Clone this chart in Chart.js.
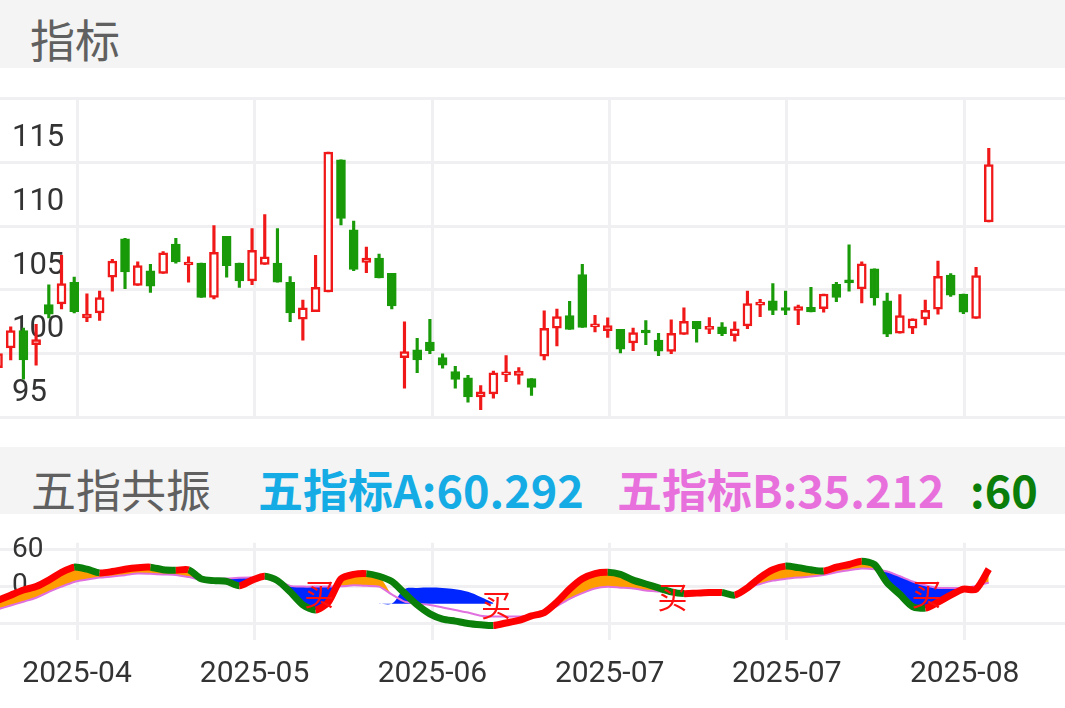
<!DOCTYPE html>
<html><head><meta charset="utf-8">
<script src="https://cdn.jsdelivr.net/npm/chart.js@4"></script>
<style>
body{margin:0;width:1065px;height:708px;background:#fff;position:relative;overflow:hidden;font-family:"Noto Sans CJK SC",Roboto,sans-serif}
.bar{position:absolute;left:0;width:1065px;background:#f4f4f4}
.t{position:absolute;white-space:nowrap;font-size:45px;line-height:1}
#c1{position:absolute;left:0;top:68px}
#c2{position:absolute;left:0;top:514px}
</style></head><body>
<div class="bar" style="top:0;height:68px"></div>
<div class="t" style="left:30px;top:16px;color:#606060">指标</div>
<div class="bar" style="top:447px;height:67px"></div>
<div class="t" style="left:31px;top:466px;color:#606060">五指共振</div>
<div class="t" style="left:258px;top:466px;color:#15ace6;font-weight:bold">五指标A:60.292</div>
<div class="t" style="left:617px;top:466px;color:#e870dc;font-weight:bold">五指标B:35.212</div>
<div class="t" style="left:970px;top:466px;color:#0b7d0b;font-weight:bold">:60</div>
<canvas id="c1" width="1065" height="380"></canvas>
<canvas id="c2" width="1065" height="194"></canvas>
<script>
const OPEN=[98.9,100.45,101.8,100.7,103.85,103.9,105.6,102.8,103.2,106.0,109.0,105.35,106.5,106.3,108.6,106.95,107.1,104.4,109.2,107.1,105.7,107.0,107.1,105.6,102.7,103.3,104.84,115.2,109.7,107.15,107.5,106.3,99.69,100.3,100.9,99.69,98.6,98.1,96.6,96.84,98.33,98.3,98.05,99.8,102.0,102.98,106.2,102.1,101.8,101.9,100.85,101.77,101.07,100.17,101.5,102.54,101.9,102.11,101.4,102.17,103.8,104.15,103.5,103.38,103.64,103.53,105.44,105.73,105.07,106.65,104.15,101.6,102.0,102.72,103.49,106.17,104.67,102.77,110.33];
const HIGH=[100.6,102.1,102.0,102.3,105.4,107.7,106.0,104.7,104.9,107.4,109.05,107.2,107.0,108.0,109.05,107.6,107.1,110.05,109.2,107.1,109.8,110.9,109.8,106.05,104.2,107.7,115.8,115.2,110.4,108.35,107.8,106.3,102.5,101.2,102.7,99.98,99.0,98.3,97.5,98.64,99.85,98.9,98.05,103.35,103.5,104.1,107.0,103.0,102.8,101.9,102.0,102.6,101.6,102.65,103.6,102.54,102.83,102.44,102.5,104.9,104.26,105.5,104.9,103.8,105.2,104.67,105.6,108.53,107.2,106.65,104.74,104.63,102.72,104.2,107.26,106.27,104.67,106.76,116.1];
const LOW=[98.5,99.5,98.0,99.1,102.8,103.5,103.2,102.5,102.6,104.9,105.1,105.35,104.8,106.3,107.1,105.6,104.4,104.3,106.0,105.2,105.4,106.99,105.6,102.5,101.05,103.3,104.84,110.1,106.5,106.35,105.94,103.5,97.3,98.5,100.0,98.86,97.3,96.2,95.6,96.5,97.8,97.6,96.73,99.5,100.6,101.9,102.06,101.7,101.27,100.06,100.24,100.7,99.84,100.0,101.5,100.9,101.56,101.4,100.97,101.95,102.9,103.05,103.05,102.28,103.27,103.25,104.08,104.9,103.97,103.8,101.34,101.6,101.56,102.26,103.1,104.48,103.14,102.77,110.33];
const CLOSE=[100.0,101.8,99.5,101.1,103.1,105.5,103.3,103.1,104.4,107.25,106.4,106.9,105.3,107.9,107.2,107.05,104.4,107.95,106.9,105.7,108.1,107.6,105.6,103.2,103.6,105.2,115.8,110.6,106.6,107.5,105.94,103.75,100.17,99.5,100.24,99.1,97.98,96.6,97.0,98.5,98.5,98.64,97.35,101.99,102.9,101.9,102.06,102.2,102.2,100.35,101.66,101.62,100.2,101.6,102.54,101.93,102.1,101.56,101.95,103.93,104.0,103.38,103.38,103.7,103.27,104.67,104.4,105.55,107.04,104.37,101.52,102.99,102.72,103.4,106.06,104.59,103.25,106.12,114.83];
const SERIES_A=[-22.6,-14.1,-5.7,-0.2,10.3,23.0,31.4,28.1,22.1,24.3,28.1,30.6,31.4,27.2,26.4,27.2,12.4,9.5,8.2,1.0,10.3,16.6,9.5,-8.7,-29.8,-38.2,-25.5,12.4,19.6,20.9,16.6,8.2,-10.8,-29.8,-44.5,-53.0,-56.3,-60.1,-62.2,-63.5,-59.3,-55.1,-47.9,-42.4,-25.5,-4.4,12.4,20.9,23.0,19.6,10.3,4.0,-2.3,-8.7,-11.6,-10.8,-9.9,-9.9,-14.1,-2.3,14.5,27.2,33.1,30.6,27.2,25.1,31.4,35.7,41.1,35.7,6.1,-12.9,-32.7,-35.2,-25.5,-14.1,-4.4,-4.4,28.1];
const SERIES_B=[-36.9,-31.0,-24.7,-18.4,-8.7,-0.2,7.4,11.2,14.5,16.2,18.4,20.9,20.5,19.6,18.8,15.4,11.2,11.6,12.9,14.1,14.5,13.7,10.3,1.0,-0.2,-0.2,-0.2,0.2,1.9,1.0,-0.2,-12.9,-24.7,-27.7,-30.2,-34.0,-38.2,-42.4,-47.5,-48.8,-48.8,-48.8,-48.8,-42.4,-31.9,-20.1,-10.8,-3.2,-0.6,-1.9,-3.2,-6.5,-8.2,-9.9,-10.8,-11.6,-12.0,-12.5,-12.9,-2.3,4.0,9.5,12.4,14.5,16.2,18.8,23.0,26.4,29.3,28.1,24.3,16.6,8.2,1.9,-2.3,-2.3,-2.3,1.0,6.1];
const FILL_EDGE=[-22.6,-14.1,-5.7,-0.2,10.3,23.0,31.4,28.1,22.1,24.3,28.1,30.6,31.4,27.2,26.4,27.2,12.4,9.5,8.2,1.0,10.3,16.6,9.5,-8.7,-29.8,-38.2,-25.5,12.4,19.6,20.9,16.6,-12.9,-24.7,-27.7,-30.2,-34.0,-38.2,-42.4,-47.5,-48.8,-48.8,-48.8,-48.8,-42.4,-25.5,-4.4,12.4,20.9,23.0,19.6,10.3,4.0,-2.3,-8.7,-11.6,-10.8,-9.9,-9.9,-14.1,-2.3,14.5,27.2,33.1,30.6,27.2,25.1,31.4,35.7,41.1,35.7,6.1,-12.9,-32.7,-35.2,-25.5,-14.1,-4.4,-4.4,28.1];
const BLOB_IDX=[30,31,32,33,34,35,36,37,38,39];
const BLOB_VAL=[-27.7,-27.7,-4.4,-2.3,-1.5,-2.3,-4.4,-8.7,-17.1,-26.8];
const BUY_IDX=[25.3,39.2,53.1,73.1];
const BUY_VAL=[-10.8,-30,-17,-11];
const MONTH_POS=[6.22,20.2,34.2,48.15,62.1,76.1];
const MONTH_LABELS=['2025-04','2025-05','2025-06','2025-07','2025-07','2025-08'];
const Y_TICKS=[95,100,105,110,115,120];
const IND_TICKS=[-60,-30,0,30,60];

const RED='#f01818',GREEN='#199a09',GRID='#f0f0f2';
const XMIN=0.157,XMAX=84.0;
function xScale(showLabels){return {type:'linear',min:XMIN,max:XMAX,offset:false,
  afterBuildTicks:s=>{s.ticks=MONTH_POS.map(v=>({value:v}));},
  afterFit:s=>{s.height=showLabels?68:0;},
  grid:{color:GRID,lineWidth:3,drawTicks:false,offset:false},border:{display:false},
  ticks:{display:showLabels,autoSkip:false,maxRotation:0,padding:16,color:'#333',font:{family:'Roboto',size:30},
    callback:(v,i)=>MONTH_LABELS[i]}};}

const idx=OPEN.map((_,i)=>i);
const up=idx.map(i=>CLOSE[i]>=OPEN[i]);
new Chart(document.getElementById('c1'),{
  type:'bar',
  data:{datasets:[
    {data:idx.map(i=>({x:i,y:[LOW[i],HIGH[i]]})),backgroundColor:idx.map(i=>up[i]?RED:GREEN),barThickness:2.5,grouped:false,order:2},
    {data:idx.map(i=>({x:i,y:[OPEN[i],CLOSE[i]]})),backgroundColor:idx.map(i=>up[i]?'#fff':GREEN),borderColor:idx.map(i=>up[i]?RED:GREEN),borderWidth:2.5,borderSkipped:false,barThickness:9,minBarLength:3,grouped:false,order:1}
  ]},
  options:{responsive:false,animation:false,events:[],layout:{padding:0},
    plugins:{legend:{display:false},tooltip:{enabled:false}},
    scales:{x:xScale(false),
      y:{min:95,max:120,afterBuildTicks:s=>{s.ticks=Y_TICKS.map(v=>({value:v}));},afterFit:s=>{s.width=0;},
        grid:{color:GRID,lineWidth:3,drawTicks:false},border:{display:false},
        ticks:{mirror:true,padding:12,labelOffset:-24,color:'#333',font:{family:'Roboto',size:31},callback:v=>v===120?'':String(v)}}}}
});

const buyPlugin={id:'buy',afterDatasetsDraw(ch){const c=ch.ctx,x=ch.scales.x,y=ch.scales.y;c.save();c.fillStyle='#ff1010';c.font='30px "Noto Sans CJK SC"';c.textAlign='center';c.textBaseline='middle';
  BUY_IDX.forEach((k,i)=>c.fillText('买',x.getPixelForValue(k),y.getPixelForValue(BUY_VAL[i])));c.restore();}};
new Chart(document.getElementById('c2'),{
  type:'line',
  data:{datasets:[
    {data:idx.map(i=>({x:i,y:SERIES_A[i]})),borderWidth:7,pointRadius:0,tension:0.25,order:1,
      segment:{borderColor:c=>c.p1.parsed.y>=c.p0.parsed.y?'#ff0000':'#0a800a'}},
    {data:idx.map(i=>({x:i,y:SERIES_B[i]})),borderColor:'#e070e0',borderWidth:2,pointRadius:0,tension:0.25,order:2},
    {data:idx.map(i=>({x:i,y:FILL_EDGE[i]})),borderWidth:0,borderColor:'rgba(0,0,0,0)',pointRadius:0,tension:0.25,order:5,
      fill:{target:1,above:'#ff9d00',below:'#0026ff'}},
    {data:BLOB_IDX.map((k,i)=>({x:k,y:BLOB_VAL[i]})),borderWidth:0,borderColor:'rgba(0,0,0,0)',pointRadius:0,tension:0.4,order:4,
      fill:{value:-28},backgroundColor:'#0026ff'}
  ]},
  options:{responsive:false,animation:false,events:[],layout:{padding:0},
    plugins:{legend:{display:false},tooltip:{enabled:false}},
    scales:{x:xScale(true),
      y:{min:-87,max:71,afterBuildTicks:s=>{s.ticks=IND_TICKS.map(v=>({value:v}));},afterFit:s=>{s.width=0;},
        grid:{color:GRID,lineWidth:3,drawTicks:false},border:{display:false},
        ticks:{mirror:true,padding:12,color:'#333',font:{family:'Roboto',size:28},callback:v=>v===-60?'':String(v)}}}},
  plugins:[buyPlugin]
});
</script></body></html>
